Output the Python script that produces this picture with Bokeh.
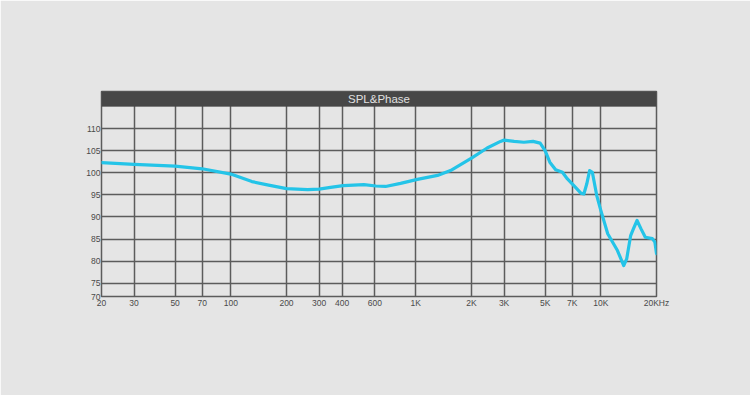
from bokeh.plotting import figure
from bokeh.models import FixedTicker, BoxAnnotation, Label
from bokeh.embed import file_html
from bokeh.resources import INLINE

# ---- data ----
freq = [20, 30, 50, 70, 100, 130, 160, 200, 260, 300, 346, 405, 524, 609, 686, 827,
        1020, 1310, 1540, 2000, 2430, 2870, 3000, 3400, 3840, 4300, 4700, 5000,
        5300, 5700, 6200, 6600, 7300, 7800, 8100, 8400, 8700, 9000, 9500, 10000,
        10900, 12300, 13300, 13800, 14500, 15000, 15700, 16500, 17400, 19000,
        19600, 20000]
spl = [102.3, 101.9, 101.5, 100.9, 99.7, 98.0, 97.2, 96.4, 96.2, 96.3, 96.7, 97.1,
       97.3, 97.0, 96.9, 97.6, 98.5, 99.4, 100.5, 103.3, 105.6, 107.1, 107.4, 107.1,
       106.9, 107.1, 106.7, 105.0, 102.4, 100.7, 100.1, 98.6, 96.7, 95.4, 95.2,
       97.5, 100.5, 100.1, 94.9, 91.5, 86.2, 82.4, 79.0, 80.5, 85.8, 87.3, 89.2,
       87.3, 85.4, 85.1, 84.3, 81.7]

x_ticks = [20, 30, 50, 70, 100, 200, 300, 400, 600, 1000, 2000, 3000, 5000, 7000, 10000, 20000]
x_tick_labels = ["20", "30", "50", "70", "100", "200", "300", "400", "600",
                 "1K", "2K", "3K", "5K", "7K", "10K", "20KHz"]
y_ticks = [72, 75, 80, 85, 90, 95, 100, 105, 110]
y_tick_labels = ["70", "75", "80", "85", "90", "95", "100", "105", "110"]
title_text = "SPL&Phase"

BG = "#e5e5e5"
GRID = "#5c5c5c"

p = figure(width=750, height=395, x_axis_type="log",
           x_range=(20, 20000), y_range=(72, 118.39),
           output_backend="svg", toolbar_location=None,
           min_border_left=101, min_border_right=94,
           min_border_top=91, min_border_bottom=99)
p.background_fill_color = BG
p.border_fill_color = BG
p.outline_line_color = GRID
p.outline_line_width = 1.5

p.xaxis.ticker = FixedTicker(ticks=x_ticks)
p.yaxis.ticker = FixedTicker(ticks=y_ticks)
xo = {float(t): l for t, l in zip(x_ticks, x_tick_labels)}
xo.update({int(t): l for t, l in zip(x_ticks, x_tick_labels)})
yo = {float(t): l for t, l in zip(y_ticks, y_tick_labels)}
yo.update({int(t): l for t, l in zip(y_ticks, y_tick_labels)})
p.xaxis.major_label_overrides = xo
p.yaxis.major_label_overrides = yo

for ax in (p.xaxis, p.yaxis):
    ax.axis_line_color = None
    ax.major_tick_line_color = None
    ax.minor_tick_line_color = None
    ax.major_tick_out = 0
    ax.major_tick_in = 0
    ax.minor_tick_out = 0
    ax.minor_tick_in = 0
    ax.major_label_text_font = "Liberation Sans"
    ax.major_label_text_font_size = "8.5px"
    ax.major_label_text_color = "#4a4a4a"
p.xaxis.major_label_standoff = 1
p.yaxis.major_label_standoff = 1

for g in (p.xgrid, p.ygrid):
    g.grid_line_color = GRID
    g.grid_line_width = 1.5
    g.grid_line_alpha = 1.0

p.line(freq, spl, line_color="#24c4e8", line_width=3.2,
       line_join="round", line_cap="round")

bar = BoxAnnotation(bottom=115, fill_color="#474747", fill_alpha=1.0,
                    line_color="#474747")
p.add_layout(bar)
p.add_layout(Label(x=632.5, y=116.7, text=title_text, text_align="center",
                   text_baseline="middle", text_color="#e0e0e0",
                   text_font="Liberation Sans", text_font_size="11.5px"))

open("out.html", "w").write(file_html(p, INLINE))
